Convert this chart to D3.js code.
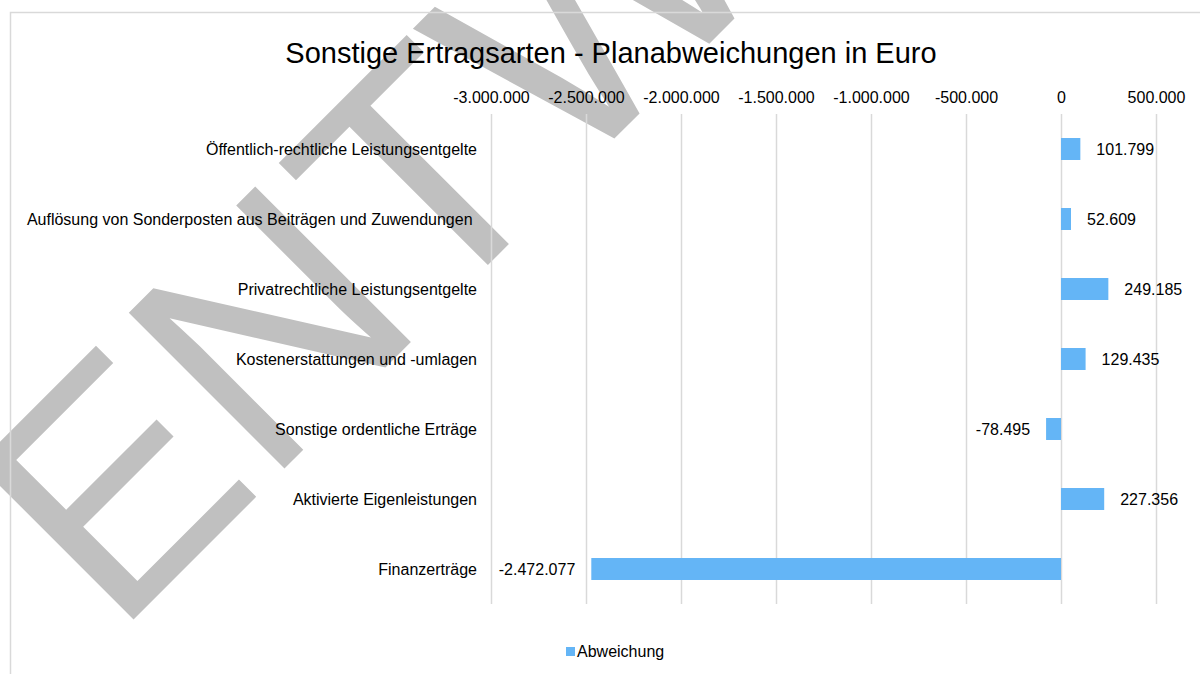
<!DOCTYPE html>
<html>
<head>
<meta charset="utf-8">
<script src="https://cdn.jsdelivr.net/npm/d3@7"></script>
<style>
  body { margin: 0; background: #fff; }
  svg { display: block; font-family: "Liberation Sans", Arial, sans-serif; }
</style>
</head>
<body>
<div id="chart"></div>
<script>
// data
const categories = [
  'Öffentlich-rechtliche Leistungsentgelte',
  'Auflösung von Sonderposten aus Beiträgen und Zuwendungen ',
  'Privatrechtliche Leistungsentgelte',
  'Kostenerstattungen und -umlagen',
  'Sonstige ordentliche Erträge',
  'Aktivierte Eigenleistungen',
  'Finanzerträge'
];
const abweichung = [101799, 52609, 249185, 129435, -78495, 227356, -2472077];
const tickValues = [-3000000, -2500000, -2000000, -1500000, -1000000, -500000, 0, 500000];
const seriesName = 'Abweichung';
const titleText = 'Sonstige Ertragsarten - Planabweichungen in Euro';
const watermarkText = 'ENTWURF';

const width = 1200, height = 674;
const barColor = '#64b5f6';
const gridColor = '#d9d9d9';

const de = d3.formatLocale({ decimal: ',', thousands: '.', grouping: [3], currency: ['', ' €'], minus: '-' });
const fmt = de.format(',d');

const data = categories.map((c, i) => ({ cat: c, value: abweichung[i] }));

const svg = d3.select('#chart').append('svg')
    .attr('width', width)
    .attr('height', height);

// watermark, behind everything
svg.append('text')
    .attr('transform', 'translate(115,638) rotate(-45)')
    .attr('font-size', 320)
    .attr('fill', '#c0c0c0')
    .text(watermarkText);

// chart frame (runs off the right and bottom edge)
svg.append('rect')
    .attr('x', 10.5).attr('y', 12.5)
    .attr('width', 1200).attr('height', 700)
    .attr('fill', 'none')
    .attr('stroke', gridColor)
    .attr('stroke-width', 1.5);

// scales
const x = d3.scaleLinear()
    .domain([-3000000, 500000])
    .range([491, 1156]);

const y = d3.scaleBand()
    .domain(categories)
    .range([114, 604])
    .paddingInner(0.686)
    .paddingOuter(0.343);

// gridlines
const grid = svg.append('g')
    .attr('transform', 'translate(0,114)')
    .call(d3.axisBottom(x).tickValues(tickValues).tickSize(490).tickFormat(''));
grid.select('.domain').remove();
grid.selectAll('line').attr('stroke', gridColor).attr('stroke-width', 1.5);

// top axis labels
const xAxis = svg.append('g')
    .attr('transform', 'translate(0,114)')
    .call(d3.axisTop(x).tickValues(tickValues).tickSize(0).tickPadding(11.5).tickFormat(fmt));
xAxis.select('.domain').remove();
xAxis.selectAll('text')
    .attr('font-size', 16)
    .attr('font-family', '"Liberation Sans", Arial, sans-serif')
    .attr('fill', '#000');

// category labels
svg.append('g').selectAll('text')
    .data(categories)
    .join('text')
    .attr('x', 477)
    .attr('y', d => y(d) + y.bandwidth() / 2)
    .attr('dy', '0.35em')
    .attr('text-anchor', 'end')
    .attr('font-size', 16)
    .style('white-space', 'pre')
    .text(d => d);

// bars
svg.append('g').selectAll('rect')
    .data(data)
    .join('rect')
    .attr('x', d => x(Math.min(0, d.value)))
    .attr('y', d => y(d.cat))
    .attr('width', d => Math.abs(x(d.value) - x(0)))
    .attr('height', y.bandwidth())
    .attr('fill', barColor);

// value labels
svg.append('g').selectAll('text')
    .data(data)
    .join('text')
    .attr('x', d => d.value >= 0 ? x(d.value) + 16 : x(d.value) - 16)
    .attr('y', d => y(d.cat) + y.bandwidth() / 2)
    .attr('dy', '0.35em')
    .attr('text-anchor', d => d.value >= 0 ? 'start' : 'end')
    .attr('font-size', 16)
    .text(d => fmt(d.value));

// title
svg.append('text')
    .attr('x', 611)
    .attr('y', 63)
    .attr('text-anchor', 'middle')
    .attr('font-size', 29)
    .text(titleText);

// legend
const legend = svg.append('g').attr('transform', 'translate(566,647)');
legend.append('rect')
    .attr('width', 9).attr('height', 9)
    .attr('fill', barColor);
legend.append('text')
    .attr('x', 11)
    .attr('y', 9.5)
    .attr('font-size', 16)
    .text(seriesName);
</script>
</body>
</html>
